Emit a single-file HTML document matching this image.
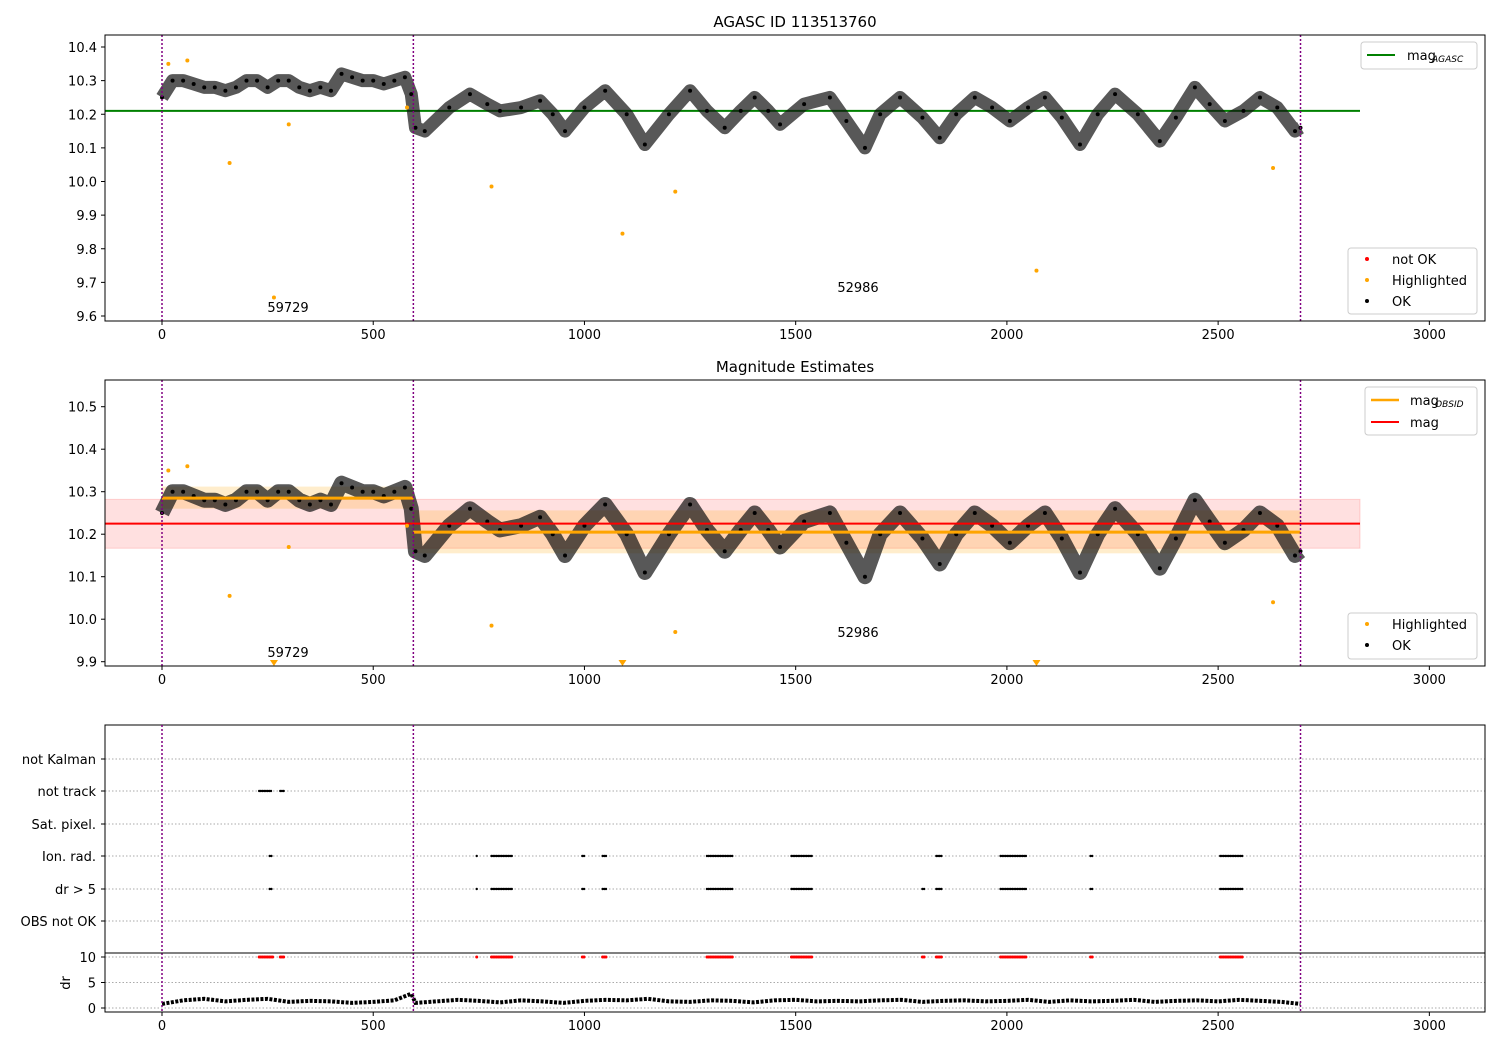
<!DOCTYPE html>
<html><head><meta charset="utf-8"><style>
body{margin:0;background:#fff;font-family:"Liberation Sans","DejaVu Sans",sans-serif}
svg text{font-family:"DejaVu Sans","Liberation Sans",sans-serif}
</style></head><body>
<svg id="c" width="1500" height="1050" xmlns="http://www.w3.org/2000/svg"></svg>
<script>
const curveT=[0,25,50,75,100,125,150,175,200,225,250,275,300,325,350,375,400,425,450,475,500,525,550,575,590,600,622,680,729,770,800,850,895,925,954,1000,1049,1100,1143,1200,1250,1290,1332,1370,1403,1435,1463,1520,1581,1620,1664,1700,1747,1800,1841,1880,1924,1965,2007,2050,2090,2130,2173,2215,2256,2310,2362,2400,2445,2480,2516,2560,2599,2640,2682,2695];
const curveM=[10.25,10.30,10.30,10.29,10.28,10.28,10.27,10.28,10.30,10.30,10.28,10.30,10.30,10.28,10.27,10.28,10.27,10.32,10.31,10.30,10.30,10.29,10.30,10.31,10.26,10.16,10.15,10.22,10.26,10.23,10.21,10.22,10.24,10.20,10.15,10.22,10.27,10.20,10.11,10.20,10.27,10.21,10.16,10.21,10.25,10.21,10.17,10.23,10.25,10.18,10.10,10.20,10.25,10.19,10.13,10.20,10.25,10.22,10.18,10.22,10.25,10.19,10.11,10.20,10.26,10.20,10.12,10.19,10.28,10.23,10.18,10.21,10.25,10.22,10.15,10.16];
const hiT=[15,60,160,265,300,580,780,1090,1215,2070,2630];
const hiM=[10.35,10.36,10.055,9.655,10.17,10.22,9.985,9.845,9.97,9.735,10.04];
const obsBounds=[0,595,2695];
const magAgasc=10.21, magMean=10.225, magBand=[10.167,10.282];
const obsMag=[10.285,10.205], obsLo=[10.26,10.155], obsHi=[10.312,10.256];
const flagNames=["not Kalman","not track","Sat. pixel.","Ion. rad.","dr > 5","OBS not OK"];
const notTrack=[[230,260],[280,290]];
const ionRad=[[255,262],[745,748],[780,830],[995,1002],[1043,1052],[1290,1350],[1490,1540],[1833,1845],[1985,2045],[2198,2202],[2505,2560]];
const drBig=[[230,262],[280,290],[745,748],[780,830],[995,1002],[1043,1052],[1290,1350],[1490,1540],[1800,1805],[1833,1845],[1985,2045],[2198,2202],[2505,2560]];
const drFlagged=[[255,262],[745,748],[780,830],[995,1002],[1043,1052],[1290,1350],[1490,1540],[1800,1805],[1833,1845],[1985,2045],[2198,2202],[2505,2560]];
const drT=[0,50,100,150,200,250,300,350,400,450,500,550,590,600,650,700,750,800,850,900,950,1000,1050,1100,1150,1200,1250,1300,1350,1400,1450,1500,1550,1600,1650,1700,1750,1800,1850,1900,1950,2000,2050,2100,2150,2200,2250,2300,2350,2400,2450,2500,2550,2600,2650,2695];
const drV=[0.8,1.5,1.8,1.3,1.6,1.8,1.2,1.4,1.3,1.0,1.2,1.5,2.8,1.0,1.3,1.6,1.4,1.1,1.5,1.3,1.0,1.4,1.6,1.5,1.8,1.3,1.2,1.5,1.4,1.1,1.5,1.6,1.3,1.4,1.3,1.5,1.6,1.2,1.4,1.5,1.3,1.4,1.6,1.2,1.5,1.3,1.4,1.6,1.2,1.4,1.5,1.3,1.6,1.4,1.2,0.8];
const xTicks=[0,500,1000,1500,2000,2500,3000];

const S=document.getElementById('c');const NS="http://www.w3.org/2000/svg";
function el(t,a,p){const e=document.createElementNS(NS,t);for(const k in a)e.setAttribute(k,a[k]);(p||S).appendChild(e);return e;}
const X=t=>162+t*0.42245;
const Y1=m=>47+(10.4-m)*336.25;
const Y2=m=>406.7+(10.5-m)*425;
const YD=v=>1008-v*5.1;
function txt(x,y,s,a,sz,name){const e=el('text',Object.assign({x:x,y:y,'font-size':sz||13,fill:'#000'},a||{}));e.textContent=s;return e;}
function frame(x0,y0,x1,y1,name){const r=el('rect',{x:x0,y:y0,width:x1-x0,height:y1-y0,fill:'none',stroke:'#000','stroke-width':1});}
function xaxis(y){xTicks.forEach(t=>{el('line',{x1:X(t),x2:X(t),y1:y,y2:y+4,stroke:'#000'});txt(X(t),y+18,String(t),{'text-anchor':'middle'},13,'x-tick-label');});}
function vlines(y0,y1){obsBounds.forEach(t=>{const l=el('line',{x1:X(t),x2:X(t),y1:y0,y2:y1,stroke:'purple','stroke-width':1.5,'stroke-dasharray':'2,2'});});}
function curve(Y,name,w){const pts=curveT.map((t,i)=>X(t)+','+Y(curveM[i])).join(' ');
 const p=el('polyline',{points:pts,fill:'none',stroke:'#111','stroke-width':w,'stroke-linejoin':'round','opacity':0.7});
 curveT.forEach((t,i)=>{el('circle',{cx:X(t),cy:Y(curveM[i]),r:2,fill:'#000'});});}
function legendBox(x,y,w,h){el('rect',{x:x,y:y,width:w,height:h,fill:'#fff',stroke:'#ccc',rx:3});}

// ---- Panel 1
txt(795,27,'AGASC ID 113513760',{'text-anchor':'middle'},15,'title-top');
[9.6,9.7,9.8,9.9,10.0,10.1,10.2,10.3,10.4].forEach(v=>{el('line',{x1:101,x2:105,y1:Y1(v),y2:Y1(v),stroke:'#000'});txt(97,Y1(v)+5,v.toFixed(1),{'text-anchor':'end'},13,'y-tick-label');});
el('line',{x1:105,x2:1360,y1:Y1(magAgasc),y2:Y1(magAgasc),stroke:'green','stroke-width':2});
curve(Y1,'ok-series-top',13);
hiT.forEach((t,i)=>{const c=el('circle',{cx:X(t),cy:Y1(hiM[i]),r:2,fill:'orange'});});
vlines(35,321);
txt(288,312,'59729',{'text-anchor':'middle'},13,'obsid-label');txt(858,292,'52986',{'text-anchor':'middle'},13,'obsid-label');
frame(105,35,1485,321,'panel1-axes');xaxis(321);
legendBox(1361,42,116,27);el('line',{x1:1367,x2:1395,y1:55,y2:55,stroke:'green','stroke-width':2});
txt(1407,60,'mag',{},13,'legend-mag-agasc');txt(1432,62,'AGASC',{'font-style':'italic'},9,'legend-sub');
legendBox(1348,248,129,66);
[['red','not OK',260],['orange','Highlighted',281],['#000','OK',302]].forEach(a=>{el('circle',{cx:1367,cy:a[2]-1,r:2,fill:a[0]});txt(1392,a[2]+4,a[1],{},13,'legend-entry');});

// ---- Panel 2
txt(795,372,'Magnitude Estimates',{'text-anchor':'middle'},15,'title-middle');
[9.9,10.0,10.1,10.2,10.3,10.4,10.5].forEach(v=>{el('line',{x1:101,x2:105,y1:Y2(v),y2:Y2(v),stroke:'#000'});txt(97,Y2(v)+5,v.toFixed(1),{'text-anchor':'end'},13,'y-tick-label');});
el('rect',{x:105,y:Y2(magBand[1]),width:1255,height:Y2(magBand[0])-Y2(magBand[1]),fill:'rgba(255,0,0,0.12)',stroke:'rgba(255,0,0,0.15)'});
for(let k=0;k<2;k++){el('rect',{x:X(obsBounds[k]),y:Y2(obsHi[k]),width:X(obsBounds[k+1])-X(obsBounds[k]),height:Y2(obsLo[k])-Y2(obsHi[k]),fill:'rgba(255,165,0,0.2)'});}
curve(Y2,'ok-series-middle',15);
for(let k=0;k<2;k++){const l=el('line',{x1:X(obsBounds[k]),x2:X(obsBounds[k+1]),y1:Y2(obsMag[k]),y2:Y2(obsMag[k]),stroke:'orange','stroke-width':3});}
el('line',{x1:105,x2:1360,y1:Y2(magMean),y2:Y2(magMean),stroke:'red','stroke-width':2});
hiT.forEach((t,i)=>{if(hiM[i]<9.89){el('polygon',{points:`${X(t)-4},660 ${X(t)+4},660 ${X(t)},666`,fill:'orange'});}else el('circle',{cx:X(t),cy:Y2(hiM[i]),r:2,fill:'orange'});});
vlines(380,666);
txt(288,657,'59729',{'text-anchor':'middle'},13,'obsid-label');txt(858,637,'52986',{'text-anchor':'middle'},13,'obsid-label');
frame(105,380,1485,666,'panel2-axes');xaxis(666);
legendBox(1365,387,112,48);el('line',{x1:1371,x2:1399,y1:400,y2:400,stroke:'orange','stroke-width':2.5});el('line',{x1:1371,x2:1399,y1:422,y2:422,stroke:'red','stroke-width':2});
txt(1410,405,'mag',{},13,'legend-mag-obsid');txt(1435,407,'OBSID',{'font-style':'italic'},9,'legend-sub');txt(1410,427,'mag',{},13,'legend-mag');
legendBox(1348,613,129,46);
[['orange','Highlighted',625],['#000','OK',646]].forEach(a=>{el('circle',{cx:1367,cy:a[2]-1,r:2,fill:a[0]});txt(1392,a[2]+4,a[1],{},13,'legend-entry');});

// ---- Panel 3 flags
const rowY=[759,791,824,856,889,921];
flagNames.forEach((n,i)=>{el('line',{x1:105,x2:1485,y1:rowY[i],y2:rowY[i],stroke:'#aaa','stroke-dasharray':'1.5,2'});el('line',{x1:101,x2:105,y1:rowY[i],y2:rowY[i],stroke:'#000'});txt(96,rowY[i]+5,n,{'text-anchor':'end'},13,'flag-row-label');});
function segDots(segs,y,col,r){segs.forEach(s=>{for(let t=s[0];t<=s[1];t+=4){el('circle',{cx:X(t),cy:y,r:r,fill:col})}});}
segDots(notTrack,rowY[1],'#000',1.2);segDots(ionRad,rowY[3],'#000',1.2);segDots(drFlagged,rowY[4],'#000',1.2);
frame(105,725,1485,953,'panel3-flags-axes');
// dr
[0,5,10].forEach(v=>{el('line',{x1:105,x2:1485,y1:YD(v),y2:YD(v),stroke:'#aaa','stroke-dasharray':'1.5,2'});el('line',{x1:101,x2:105,y1:YD(v),y2:YD(v),stroke:'#000'});txt(96,YD(v)+5,String(v),{'text-anchor':'end'},13,'dr-tick-label');});
const drp=el('polyline',{points:drT.map((t,i)=>X(t)+','+YD(drV[i])).join(' '),fill:'none',stroke:'#000','stroke-width':4,'stroke-dasharray':'3,1.5'});
segDots(drBig,YD(10),'red',1.5);
vlines(725,1012);
frame(105,953,1485,1012,'panel3-dr-axes');xaxis(1012);
txt(0,0,'dr',{'text-anchor':'middle',transform:'translate(70,983) rotate(-90)'},13,'dr-axis-title');
</script>
</body></html>
